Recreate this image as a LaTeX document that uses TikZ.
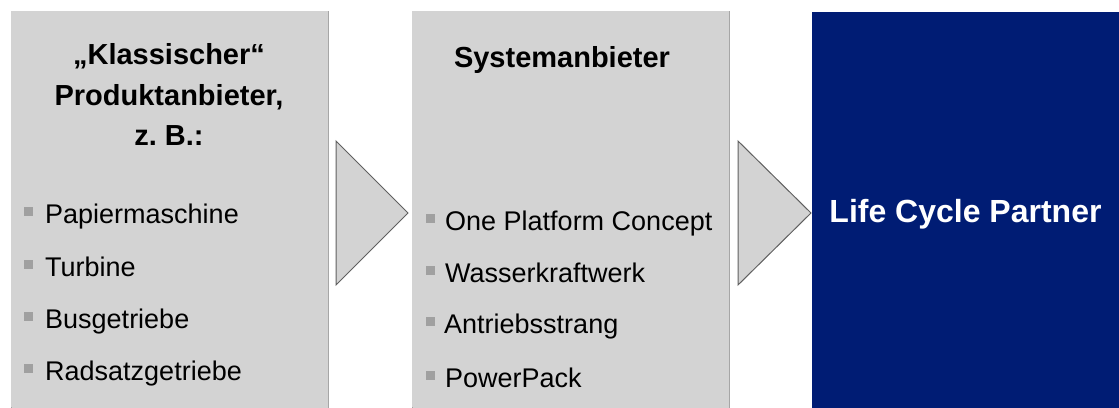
\documentclass[tikz,border=0pt]{standalone}
\usepackage{fontspec}
\setmainfont{Liberation Sans}
\frenchspacing
\definecolor{boxgray}{RGB}{211,211,211}
\definecolor{boxline}{RGB}{166,166,166}
\definecolor{arrowline}{RGB}{96,96,96}
\definecolor{bulletgray}{RGB}{160,160,160}
\definecolor{navy}{RGB}{0,28,116}
\tikzset{
  panel/.style={fill=boxgray, draw=boxline, line width=0.8pt},
  chevron/.style={fill=boxgray, draw=arrowline, line width=1pt, line join=miter},
  headtext/.style={font=\bfseries\fontsize{29}{40.5}\selectfont, align=center, inner sep=0pt},
  itemtext/.style={font=\fontsize{27}{32}\selectfont, anchor=base west, inner sep=0pt},
  bullet/.style={fill=bulletgray, draw=none, minimum size=9pt, inner sep=0pt},
}
\begin{document}
\begin{tikzpicture}[x=1pt,y=-1pt]
\useasboundingbox (0,0) rectangle (1119,407);
% panels
\draw[panel] (11,411) -- (11,11) -- (328,11) -- (328,411);
\fill[boxgray] (11.4,11.4) rectangle (327.6,407);
\draw[panel] (412,411) -- (412,11) -- (729,11) -- (729,411);
\fill[boxgray] (412.4,11.4) rectangle (728.6,407);
\fill[navy] (812,12) rectangle (1130,410);
% chevrons
\draw[chevron] (336,141) -- (408,213) -- (336,285) -- cycle;
\draw[chevron] (738,141) -- (811,213) -- (738,285) -- cycle;
% panel 1
\node[headtext, anchor=north] (h1) at (169,43.5) {„Klassischer“\\Produktanbieter,\\z. B.:};
\node[bullet] (b11) at (28.5,211.5) {};
\node[itemtext] (t11) at (45,223) {Papiermaschine};
\node[bullet] (b12) at (28.5,264.5) {};
\node[itemtext] (t12) at (45,276) {Turbine};
\node[bullet] (b13) at (28.5,316.5) {};
\node[itemtext] (t13) at (45,328) {Busgetriebe};
\node[bullet] (b14) at (28.5,368.5) {};
\node[itemtext] (t14) at (45,380) {Radsatzgetriebe};
% panel 2
\node[headtext, anchor=base] (h2) at (562,67) {Systemanbieter};
\node[bullet] (b21) at (430,218.5) {};
\node[itemtext] (t21) at (445,230) {One Platform Concept};
\node[bullet] (b22) at (430,270.5) {};
\node[itemtext] (t22) at (445,282) {Wasserkraftwerk};
\node[bullet] (b23) at (430,321.5) {};
\node[itemtext] (t23) at (444,333) {Antriebsstrang};
\node[bullet] (b24) at (430,375.5) {};
\node[itemtext] (t24) at (445,387) {PowerPack};
% panel 3
\node[font=\bfseries\fontsize{32}{38}\selectfont, text=white, anchor=base, inner sep=0pt] (h3) at (965.5,222) {Life Cycle Partner};
\end{tikzpicture}
\end{document}
